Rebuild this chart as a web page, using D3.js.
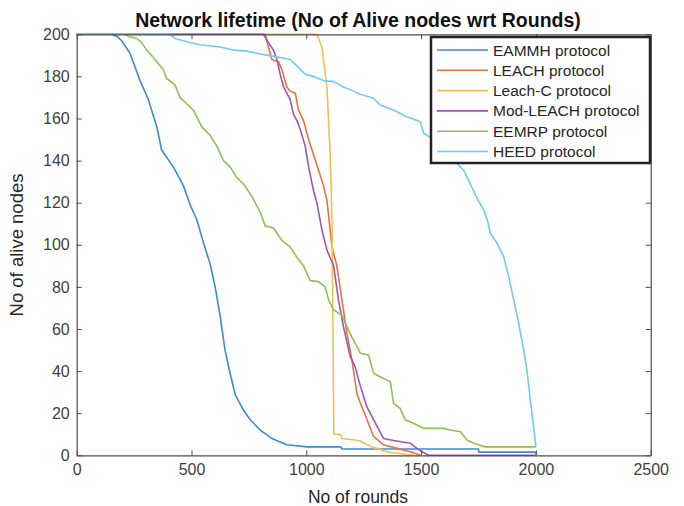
<!DOCTYPE html>
<html><head><meta charset="utf-8">
<script src="https://cdn.jsdelivr.net/npm/d3@7"></script>
<style>body{margin:0;background:#fff;} text{font-family:"Liberation Sans",Arial,sans-serif;}</style>
</head><body><svg id="c" width="684" height="506"></svg>
<script>
const seriesNames = ["EAMMH protocol","LEACH protocol","Leach-C protocol","Mod-LEACH protocol","EEMRP protocol","HEED protocol"];
const colors = ["#3a8dd4","#e8713f","#f2bf4e","#a055b6","#8dc056","#6fcbf2"];
const xTicks = [0,500,1000,1500,2000,2500];
const yTicks = [0,20,40,60,80,100,120,140,160,180,200];

const eammh = [[0,200],[152,200],[175,199],[196,197],[232,191],[276,178],[312,169],[349,156],[370,145],[421,137],[465,128],[494,119],[523,112],[552,101],[581,91],[603,80],[625,66],[646,50],[668,39],[690,29],[726,21.5],[755,17],[799,12],[850,8],[915,5],[1003,4],[1150,4],[1155,3],[1750,3],[1752,1.5],[2000,1.5],[2000,0.5]];
const leach = [[0,200],[821,200],[835,194],[850,188],[879,187],[894,183],[915,175],[930,173],[952,172],[966,164],[988,159],[1010,150],[1031,143],[1053,135.5],[1075,128],[1090,121],[1112,99],[1133,90],[1155,74],[1177,58],[1199,45],[1221,29],[1235,25],[1264,17],[1293,9],[1336,5],[1395,3.3],[1453,1.7],[1497,0]];
const leachC = [[0,200],[1046,200],[1068,194],[1090,175],[1104,143],[1112,112],[1116,60],[1120,10],[1150,10],[1155,8],[1230,7],[1286,4],[1351,1.7],[1395,1],[1467,0]];
const modLeach = [[0,200],[813,200],[835,196],[857,192.5],[872,188],[886,181],[901,175],[915,172],[930,169],[944,162],[959,159],[973,155],[995,147],[1010,137],[1031,126],[1046,120],[1068,107],[1090,97.5],[1119,90],[1140,74],[1162,61],[1191,47],[1213,42],[1235,33],[1264,23],[1293,17],[1336,8],[1380,7],[1453,5.7],[1482,3.3],[1504,1.7],[1533,0],[2000,0]];
const eemrp = [[0,200],[210,200],[225,199],[262,198],[283,196],[305,192.5],[334,189],[356,186],[378,183],[392,179],[428,176],[450,170],[479,167],[508,164],[545,156],[581,152],[610,147],[639,140],[668,137],[697,132],[726,129],[763,123],[799,115.5],[821,109],[857,108],[894,102],[930,99],[959,94],[988,90],[1017,83],[1053,82.5],[1082,80],[1097,74],[1119,69],[1155,66.6],[1177,61],[1199,56],[1221,51.6],[1235,48.5],[1271,47.6],[1293,39],[1336,36.5],[1366,35],[1380,24.7],[1409,22.3],[1431,16.8],[1467,15.2],[1511,12.8],[1598,12.8],[1627,12],[1671,11.2],[1700,7.3],[1729,5.7],[1780,4],[2000,4]];
const heed = [[0,200],[407,200],[428,198],[479,196.5],[537,195],[625,194],[683,192.5],[741,192],[785,191],[835,190],[886,189],[930,188],[959,185],[995,181],[1031,180],[1075,178],[1119,177.5],[1162,175],[1206,173],[1235,171.5],[1293,169.6],[1322,166.4],[1380,164],[1438,160.8],[1497,158.5],[1511,153],[1547,150.6],[1598,149.8],[1627,146.6],[1656,138.7],[1685,135.5],[1714,129],[1744,122],[1773,116.5],[1788,112],[1802,105.5],[1831,100.7],[1860,94.3],[1881,85],[1903,74],[1925,62.7],[1947,50],[1961,40.5],[1976,26],[1990,13.6],[2000,4]];
const allSeries = [eammh, leach, leachC, modLeach, eemrp, heed];

const svg = d3.select("#c");
const L=76.7, R=650.7, T=34.3, B=455.3;
const x = d3.scaleLinear().domain([0,2500]).range([L,R]);
const y = d3.scaleLinear().domain([0,200]).range([B,T]);
const axCol = "#4d4d4d";

// lines
const line = d3.line().x(d=>x(d[0])).y(d=>y(d[1]));
allSeries.forEach((s,i)=>{
  svg.append("path").attr("d",line(s)).attr("fill","none").attr("stroke",colors[i]).attr("stroke-width",1.6).attr("stroke-linejoin","round");
});

// axes (ticks inward, box)
function styleAxis(g){ g.select(".domain").attr("stroke",axCol).attr("stroke-width",1.2); g.selectAll(".tick line").attr("stroke",axCol); g.selectAll("text").attr("fill","#404040").style("font-size","16px"); }
svg.append("g").attr("transform",`translate(0,${B})`).call(d3.axisBottom(x).tickValues(xTicks).tickFormat(d3.format("d")).tickSizeInner(-5).tickSizeOuter(0).tickPadding(8)).call(styleAxis);
svg.append("g").attr("transform",`translate(${L},0)`).call(d3.axisLeft(y).tickValues(yTicks).tickFormat(d3.format("d")).tickSizeInner(-5).tickSizeOuter(0).tickPadding(7)).call(styleAxis);
svg.append("g").attr("transform",`translate(0,${T})`).call(d3.axisTop(x).tickValues(xTicks).tickSizeInner(-5).tickSizeOuter(0).tickFormat("")).call(styleAxis);
svg.append("g").attr("transform",`translate(${R},0)`).call(d3.axisRight(y).tickValues(yTicks).tickSizeInner(-5).tickSizeOuter(0).tickFormat("")).call(styleAxis);

// title and labels
svg.append("text").attr("x",358).attr("y",27).attr("text-anchor","middle").style("font-size","19.5px").style("font-weight","bold").attr("fill","#111").text("Network lifetime (No of Alive nodes wrt Rounds)");
svg.append("text").attr("x",358).attr("y",503).attr("text-anchor","middle").style("font-size","17.5px").attr("fill","#262626").text("No of rounds");
svg.append("text").attr("transform","translate(23,245) rotate(-90)").attr("text-anchor","middle").style("font-size","18.5px").attr("fill","#262626").text("No of alive nodes");

// legend
const lg = svg.append("g");
lg.append("rect").attr("x",431).attr("y",37).attr("width",219).attr("height",126).attr("fill","#fff").attr("stroke","#222").attr("stroke-width",2.5);
seriesNames.forEach((n,i)=>{
  const yy = 50 + i*20.3;
  lg.append("line").attr("x1",437).attr("x2",488).attr("y1",yy).attr("y2",yy).attr("stroke",colors[i]).attr("stroke-width",1.6);
  lg.append("text").attr("x",493).attr("y",yy+5.5).style("font-size","15.5px").attr("fill","#262626").text(n);
});
</script></body></html>
